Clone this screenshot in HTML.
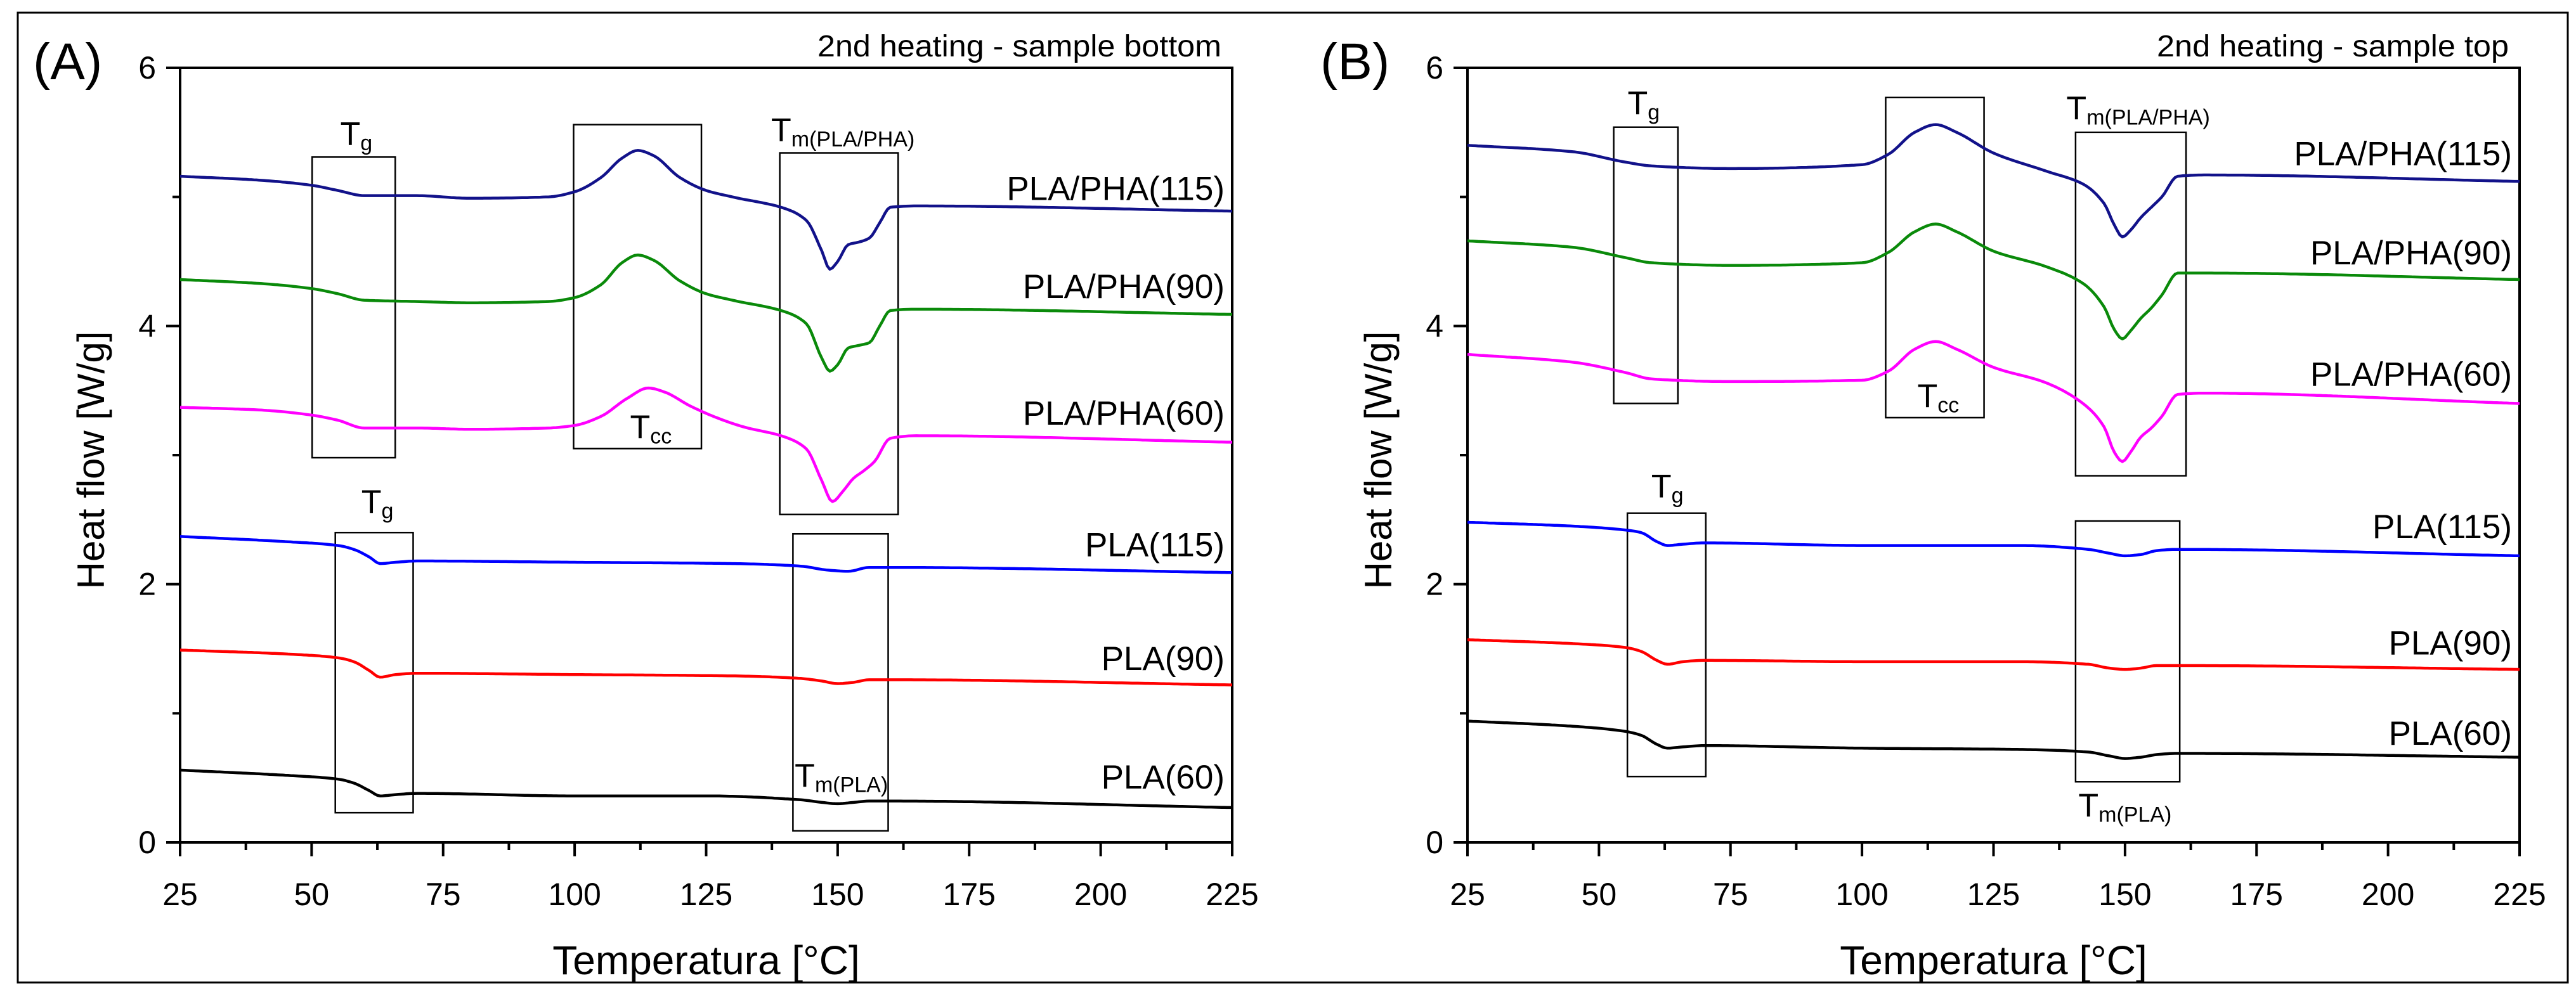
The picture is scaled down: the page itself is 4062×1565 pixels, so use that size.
<!DOCTYPE html>
<html><head><meta charset="utf-8"><style>
body{margin:0;background:#fff}
svg{display:block;font-family:"Liberation Sans",Arial,sans-serif}
</style></head><body>
<svg id="fig" width="4062" height="1565" viewBox="0 0 4062 1565" xmlns="http://www.w3.org/2000/svg">
<rect x="28" y="20" width="4021" height="1530" fill="#fff" stroke="#000" stroke-width="3"/>
</svg>
<script>
// ---------- data (panel A: sample bottom) ----------
const tA115=[25,40,50,55,60,70,80,95,100,105,109,112,115,120,125,130,140,144,147,148.5,150,152,154,156,158,160,165,225];
const vA115=[5.16,5.13,5.09,5.05,5.01,5.01,4.99,5.00,5.04,5.15,5.30,5.36,5.32,5.15,5.05,5.00,4.91,4.82,4.58,4.44,4.50,4.63,4.65,4.68,4.80,4.92,4.93,4.89];
const tA90=[25,40,50,55,60,70,80,95,100,105,109,112,115,120,125,130,140,144,147,148.5,150,152,154,156,158,160,165,225];
const vA90=[4.36,4.33,4.29,4.25,4.20,4.19,4.18,4.19,4.22,4.32,4.49,4.55,4.51,4.35,4.25,4.20,4.11,4.02,3.75,3.65,3.70,3.83,3.85,3.87,4.00,4.12,4.13,4.09];
const tA60=[25,40,50,55,60,70,80,95,100,105,110,114,117,122,127,132,140,144,147,149,151,153,155,157,160,165,225];
const vA60=[3.37,3.35,3.31,3.27,3.21,3.21,3.20,3.21,3.23,3.30,3.44,3.52,3.49,3.38,3.29,3.22,3.14,3.05,2.80,2.64,2.72,2.82,2.88,2.95,3.13,3.15,3.10];
const tAP115=[25,45,55,58,61,63,66,70,100,130,143,148,152,156,160,225];
const vAP115=[2.37,2.33,2.30,2.27,2.21,2.16,2.17,2.18,2.17,2.16,2.14,2.11,2.10,2.13,2.13,2.09];
const tAP90=[25,45,55,58,61,63,66,70,100,130,143,147,150,153,156,160,225];
const vAP90=[1.49,1.46,1.43,1.40,1.33,1.28,1.30,1.31,1.30,1.29,1.27,1.25,1.23,1.24,1.26,1.26,1.22];
const tAP60=[25,45,55,58,61,63,66,70,100,125,143,147,150,153,156,160,225];
const vAP60=[0.56,0.52,0.49,0.46,0.40,0.36,0.37,0.38,0.36,0.36,0.33,0.31,0.30,0.31,0.32,0.32,0.27];
// ---------- data (panel B: sample top) ----------
const tB115=[25,45,55,60,75,100,105,110,114,118,125,135,142,146,148,149.5,151,153,155,157,160,165,225];
const vB115=[5.40,5.35,5.27,5.24,5.22,5.25,5.33,5.50,5.56,5.50,5.34,5.20,5.10,4.95,4.78,4.69,4.74,4.84,4.92,5.00,5.16,5.17,5.12];
const tB90=[25,45,55,60,75,100,105,110,114,118,125,135,142,146,148,149.5,151,153,155,157,160,165,225];
const vB90=[4.66,4.61,4.53,4.49,4.47,4.49,4.57,4.73,4.79,4.73,4.58,4.46,4.33,4.15,3.97,3.90,3.96,4.06,4.14,4.24,4.41,4.41,4.36];
const tB60=[25,45,55,60,75,100,105,110,114,118,125,135,142,146,148,149.5,151,153,155,157,160,165,225];
const vB60=[3.78,3.72,3.64,3.59,3.57,3.58,3.65,3.82,3.88,3.82,3.68,3.56,3.40,3.22,3.02,2.95,3.02,3.14,3.21,3.30,3.47,3.48,3.40];
const tBP115=[25,45,55,58,61,63,66,70,100,130,143,147,150,153,156,160,225];
const vBP115=[2.48,2.45,2.42,2.40,2.33,2.30,2.31,2.32,2.30,2.30,2.27,2.24,2.22,2.23,2.26,2.27,2.22];
const tBP90=[25,45,55,58,61,63,66,70,100,130,143,147,150,153,156,160,225];
const vBP90=[1.57,1.54,1.51,1.48,1.41,1.38,1.40,1.41,1.40,1.40,1.38,1.35,1.34,1.35,1.37,1.37,1.34];
const tBP60=[25,45,55,58,61,63,66,70,100,130,143,147,150,153,156,160,225];
const vBP60=[0.94,0.90,0.86,0.83,0.76,0.73,0.74,0.75,0.73,0.72,0.70,0.67,0.65,0.66,0.68,0.69,0.66];
const xTicks=[25,50,75,100,125,150,175,200,225];
const yTicks=[0,2,4,6];
const seriesNames=["PLA/PHA(115)","PLA/PHA(90)","PLA/PHA(60)","PLA(115)","PLA(90)","PLA(60)"];
const labelYA=[5.07,4.31,3.33,2.31,1.43,0.51];
const labelYB=[5.34,4.57,3.63,2.45,1.55,0.85];
const colors=["#12128a","#0a8a0a","#ff00ff","#0000ff","#ff0000","#000000"];

const NS="http://www.w3.org/2000/svg";
const svg=document.getElementById('fig');
function mk(tag,attrs,parent){const e=document.createElementNS(NS,tag);for(const k in attrs)e.setAttribute(k,attrs[k]);(parent||svg).appendChild(e);return e;}

// monotone cubic (Fritsch-Carlson) interpolation
function monotone(xs,ys){
  const n=xs.length,d=[],m=new Array(n);
  for(let i=0;i<n-1;i++)d.push((ys[i+1]-ys[i])/(xs[i+1]-xs[i]));
  m[0]=d[0];m[n-1]=d[n-2];
  for(let i=1;i<n-1;i++){
    if(d[i-1]*d[i]<=0)m[i]=0;
    else{const h0=xs[i]-xs[i-1],h1=xs[i+1]-xs[i];const w1=2*h1+h0,w2=h1+2*h0;m[i]=(w1+w2)/(w1/d[i-1]+w2/d[i]);}
  }
  return function(x){
    let i=0;while(i<n-2&&x>xs[i+1])i++;
    const h=xs[i+1]-xs[i],t=(x-xs[i])/h,t2=t*t,t3=t2*t;
    return (2*t3-3*t2+1)*ys[i]+(t3-2*t2+t)*h*m[i]+(-2*t3+3*t2)*ys[i+1]+(t3-t2)*h*m[i+1];
  };
}

function panel(cfg){
  const g=mk('g',{});
  
  
  const xl=cfg.xl,xr=cfg.xr,yt=107,yb=1329;
  const X=t=>xl+(t-25)/200*(xr-xl);
  const Y=v=>yb-v/6*(yb-yt);
  const fr=mk('rect',{x:xl,y:yt,width:xr-xl,height:yb-yt,fill:'none',stroke:'#000','stroke-width':4},g);
  
  
  for(let t=25;t<=225;t+=12.5){
    const maj=((t-25)%25===0);
    const l=mk('line',{x1:X(t),x2:X(t),y1:yb,y2:yb+(maj?22:12),stroke:'#000','stroke-width':4},g);
    
    
  }
  xTicks.forEach(t=>{
    const tx=mk('text',{x:X(t),y:1428,'font-size':50,'text-anchor':'middle'},g);
    tx.textContent=t;
    
    
  });
  for(let v=0;v<=6;v+=1){
    const maj=(v%2===0);
    const l=mk('line',{x1:xl,x2:xl-(maj?22:12),y1:Y(v),y2:Y(v),stroke:'#000','stroke-width':4},g);
    
    
  }
  yTicks.forEach(v=>{
    const tx=mk('text',{x:xl-38,y:Y(v)+17,'font-size':50,'text-anchor':'end'},g);
    tx.textContent=v;
    
    
  });
  const xt=mk('text',{x:(xl+xr)/2,y:1537,'font-size':64,'text-anchor':'middle'},g);
  xt.textContent='Temperatura [°C]';
  
  
  const yc=726,yx=xl-120;
  const yti=mk('text',{x:yx,y:yc,'font-size':60,'text-anchor':'middle',transform:`rotate(-90 ${yx} ${yc})`},g);
  yti.textContent='Heat flow [W/g]';
  
  
  const pl=mk('text',{x:xl-232,y:125,'font-size':82},g);
  pl.textContent=cfg.letter;
  
  
  const ti=mk('text',{x:xr-17,y:89,'font-size':48,'text-anchor':'end',textLength:cfg.titleLen,lengthAdjust:'spacingAndGlyphs'},g);
  ti.textContent=cfg.title;
  
  
  cfg.boxes.forEach(b=>{
    const r=mk('rect',{x:X(b[0]),y:Y(b[3]),width:X(b[1])-X(b[0]),height:Y(b[2])-Y(b[3]),fill:'none',stroke:'#000','stroke-width':2.5},g);
    
    
  });
  cfg.notes.forEach(n=>{
    const tx=mk('text',{x:X(n[0]),y:Y(n[1]),'font-size':52,'text-anchor':'middle'},g);
    
    
    const a=mk('tspan',{},tx);a.textContent='T';
    const b=mk('tspan',{'font-size':34,dy:8},tx);b.textContent=n[2];
  });
  cfg.series.forEach((s,i)=>{
    const f=monotone(s[0],s[1]);
    let d='';
    for(let t=25;t<=225.001;t+=0.5){d+=(d?'L':'M')+X(t).toFixed(1)+','+Y(f(t)).toFixed(1);}
    const p=mk('path',{d:d,fill:'none',stroke:colors[i],'stroke-width':4.5,'stroke-linejoin':'round'},g);
    
    
    const lb=mk('text',{x:xr-12,y:Y(cfg.labelY[i])+19,'font-size':53,'text-anchor':'end'},g);
    lb.textContent=seriesNames[i];
    
    
  });
}
panel({name:'panel-a',letter:'(A)',xl:284,xr:1943,title:'2nd heating - sample bottom',titleLen:637,
  series:[[tA115,vA115],[tA90,vA90],[tA60,vA60],[tAP115,vAP115],[tAP90,vAP90],[tAP60,vAP60]],labelY:labelYA,
  boxes:[[50.1,65.9,2.98,5.31],[99.8,124.1,3.05,5.56],[139,161.5,2.54,5.34],[54.5,69.3,0.23,2.40],[141.5,159.6,0.09,2.39]],
  notes:[[58.5,5.40,'g'],[114.5,3.13,'cc'],[151,5.43,'m(PLA/PHA)'],[62.5,2.55,'g'],[150.7,0.43,'m(PLA)']]});
panel({name:'panel-b',letter:'(B)',xl:2314,xr:3973,title:'2nd heating - sample top',titleLen:555,
  series:[[tB115,vB115],[tB90,vB90],[tB60,vB60],[tBP115,vBP115],[tBP90,vBP90],[tBP60,vBP60]],labelY:labelYB,
  boxes:[[52.8,65,3.40,5.54],[104.5,123.2,3.29,5.77],[140.6,161.6,2.84,5.50],[55.4,70.3,0.51,2.55],[140.6,160.4,0.47,2.49]],
  notes:[[58.5,5.64,'g'],[114.5,3.37,'cc'],[152.5,5.60,'m(PLA/PHA)'],[63,2.67,'g'],[150,0.20,'m(PLA)']]});
</script>
</body></html>
